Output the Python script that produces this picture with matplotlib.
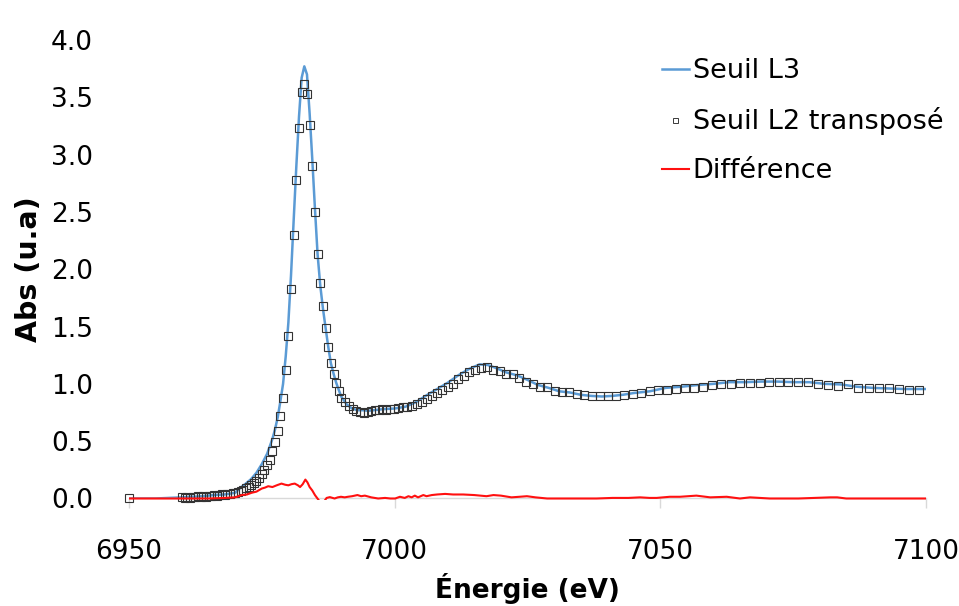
import matplotlib.pyplot as plt
from matplotlib.lines import Line2D
from matplotlib.transforms import Bbox, TransformedBbox

plt.rcParams['font.family'] = ['DejaVu Sans']

# Seuil L3 (continuous line)
e_l3 = [6950, 6955, 6960, 6962, 6964, 6966, 6968, 6970, 6971, 6972, 6973, 6974,
        6975, 6976, 6977, 6977.5, 6978, 6978.5, 6979, 6979.5, 6980, 6980.5, 6981,
        6981.5, 6982, 6982.5, 6983, 6983.5, 6984, 6984.5, 6985, 6985.5, 6986,
        6986.5, 6987, 6987.5, 6988, 6988.5, 6989, 6989.5, 6990, 6991, 6992, 6993,
        6994, 6995, 6996, 6998, 7000, 7002, 7004, 7006, 7008, 7010, 7012, 7014,
        7016, 7017.5, 7019, 7021, 7023, 7025, 7027, 7029, 7031, 7033, 7035, 7037,
        7039, 7041, 7043, 7045, 7048, 7051, 7054, 7057, 7060, 7063, 7066, 7069,
        7072, 7075, 7078, 7081, 7084, 7087, 7090, 7093, 7096, 7100]
abs_l3 = [0.0, 0.0, 0.01, 0.015, 0.02, 0.03, 0.035, 0.05, 0.095, 0.13, 0.17, 0.225,
          0.30, 0.39, 0.52, 0.605, 0.71, 0.85, 1.0, 1.24, 1.535, 1.95, 2.43,
          2.90, 3.33, 3.67, 3.77, 3.70, 3.36, 2.96, 2.53, 2.13, 1.86,
          1.66, 1.49, 1.325, 1.18, 1.09, 1.01, 0.945, 0.885, 0.82, 0.785, 0.77,
          0.77, 0.765, 0.77, 0.78, 0.785, 0.80, 0.84, 0.90, 0.955, 1.01, 1.075, 1.13,
          1.17, 1.165, 1.14, 1.10, 1.075, 1.035, 0.99, 0.965, 0.935, 0.925, 0.905, 0.895,
          0.89, 0.895, 0.905, 0.92, 0.935, 0.965, 0.975, 0.99, 1.0, 1.015, 1.015, 1.02,
          1.02, 1.015, 1.015, 1.0, 0.995, 0.975, 0.965, 0.96, 0.955, 0.955]

# Seuil L2 transposé (open squares)
e_l2 = [6950,
        6960.0, 6960.5, 6961.0, 6961.5, 6962.0, 6962.5, 6963.0, 6963.5, 6964.0, 6964.5,
        6965.0, 6965.5, 6966.0, 6966.5, 6967.0, 6967.5, 6968.0, 6968.5, 6969.0, 6969.5,
        6970.0, 6970.5, 6971.0, 6971.5, 6972.0, 6972.5, 6973.0, 6973.5, 6974.0, 6974.5,
        6975.0, 6975.5, 6976.0, 6976.5, 6977.0, 6977.5, 6978.0, 6978.5, 6979.0, 6979.5,
        6980.0, 6980.5, 6981.0, 6981.5, 6982.0, 6982.5, 6983.0, 6983.5, 6984.0, 6984.5,
        6985.0, 6985.5, 6986.0, 6986.5, 6987.0, 6987.5, 6988.0, 6988.5, 6989.0, 6989.5,
        6990.0, 6990.7, 6991.4, 6992.1, 6992.8, 6993.5, 6994.2, 6994.9, 6995.6, 6996.3,
        6997.0, 6997.7, 6998.4, 6999.1, 6999.8, 7000.6, 7001.5, 7002.4, 7003.3, 7004.2,
        7005.1, 7006.0, 7007.0, 7008.0, 7009.0, 7010.0, 7011.0, 7012.0, 7013.0, 7014.0,
        7015.1, 7016.2, 7017.4, 7018.6, 7019.8, 7021.0, 7022.2, 7023.5, 7024.8, 7026.1,
        7027.4, 7028.7, 7030.1, 7031.5, 7032.9, 7034.3, 7035.7, 7037.2, 7038.7, 7040.2,
        7041.7, 7043.2, 7044.8, 7046.4, 7048.0, 7049.6, 7051.3, 7053.0, 7054.7, 7056.4,
        7058.1, 7059.8, 7061.5, 7063.3, 7065.1, 7066.9, 7068.7, 7070.5, 7072.3, 7074.1,
        7075.9, 7077.8, 7079.7, 7081.6, 7083.5, 7085.4, 7087.3, 7089.2, 7091.1, 7093.0,
        7094.9, 7096.8, 7098.7]
abs_l2 = [0.0,
          0.01, 0.005, 0.01, 0.0, 0.015, 0.01, 0.02, 0.01, 0.02, 0.015,
          0.025, 0.02, 0.03, 0.02, 0.03, 0.035, 0.03, 0.04, 0.04, 0.045,
          0.05, 0.055, 0.065, 0.075, 0.09, 0.10, 0.12, 0.135, 0.155, 0.18,
          0.21, 0.245, 0.29, 0.34, 0.41, 0.49, 0.59, 0.72, 0.88, 1.12,
          1.42, 1.83, 2.30, 2.78, 3.23, 3.55, 3.62, 3.53, 3.26, 2.90,
          2.50, 2.13, 1.88, 1.68, 1.49, 1.32, 1.18, 1.09, 1.01, 0.94,
          0.88, 0.84, 0.81, 0.78, 0.765, 0.755, 0.75, 0.755, 0.765, 0.77,
          0.775, 0.78, 0.775, 0.785, 0.78, 0.79, 0.795, 0.80, 0.81, 0.825,
          0.84, 0.865, 0.89, 0.92, 0.945, 0.97, 1.00, 1.04, 1.07, 1.10,
          1.125, 1.14, 1.145, 1.12, 1.11, 1.09, 1.085, 1.05, 1.02, 1.00,
          0.975, 0.97, 0.94, 0.93, 0.925, 0.915, 0.90, 0.895, 0.89, 0.89,
          0.89, 0.905, 0.915, 0.92, 0.935, 0.945, 0.95, 0.955, 0.96, 0.965,
          0.97, 0.99, 1.00, 1.0, 1.005, 1.005, 1.01, 1.015, 1.02, 1.015,
          1.015, 1.015, 1.0, 0.99, 0.985, 0.995, 0.965, 0.965, 0.965, 0.96,
          0.955, 0.95, 0.95]

# Différence
e_diff = [6950, 6955, 6960, 6965, 6968, 6970, 6971.2, 6972.2, 6973.1, 6974, 6975,
          6975.6, 6976.2, 6977, 6977.8, 6978.7, 6979.4, 6980, 6980.6, 6981.2, 6981.8,
          6982.2, 6982.7, 6983.2, 6983.6, 6984, 6984.5, 6985, 6985.4, 6985.8, 6986.5,
          6987.2, 6987.8, 6988.7, 6989.3, 6989.9, 6990.6, 6991.2, 6992, 6993, 6993.7,
          6994.4, 6995.6, 6996.9, 6998.2, 6999.2, 7000.1, 7001, 7001.9, 7002.6, 7003.2,
          7003.8, 7004.4, 7005.4, 7006, 7007, 7008, 7009.5, 7011, 7012.9, 7015, 7017.3,
          7018.6, 7020, 7022, 7023.5, 7024.9, 7026.5, 7028.7, 7032, 7035, 7038, 7041,
          7044, 7046.2, 7048, 7049.3, 7051.8, 7053.7, 7056.8, 7059.4, 7062.5, 7065,
          7066.9, 7070.6, 7073, 7076, 7079, 7082, 7083.3, 7085, 7090, 7095, 7100]
diff = [0, 0, 0.0, 0.0, 0.005, 0.01, 0.03, 0.035, 0.05, 0.06, 0.087,
        0.095, 0.107, 0.10, 0.115, 0.13, 0.12, 0.115, 0.125, 0.13, 0.115,
        0.10, 0.125, 0.165, 0.14, 0.10, 0.07, 0.03, 0.005, -0.02, -0.04,
        0.005, 0.012, 0.0, 0.01, 0.015, 0.01, 0.015, 0.02, 0.03, 0.02,
        0.025, 0.01, 0.0, 0.005, 0.0, 0.0, 0.015, 0.005, 0.02, 0.01,
        0.025, 0.01, 0.03, 0.02, 0.03, 0.035, 0.04, 0.035, 0.035, 0.03, 0.02,
        0.03, 0.025, 0.01, 0.015, 0.02, 0.01, 0.0, 0.0, 0.0, 0.0, 0.005,
        0.005, 0.01, 0.005, 0.005, 0.015, 0.015, 0.025, 0.01, 0.015, 0.0,
        0.01, 0.0, 0.0, 0.0, 0.005, 0.01, 0.01, 0.0, 0.0, 0.0, 0.0]

x_ticks = [6950, 7000, 7050, 7100]
y_ticks = [0.0, 0.5, 1.0, 1.5, 2.0, 2.5, 3.0, 3.5, 4.0]

blue = '#5B9BD5'
red = '#FF1010'
grey = '#D9D9D9'

fig = plt.figure(figsize=(9.59, 6.06), dpi=100)
ax = fig.add_axes([0.1345, 0.1774, 0.831, 0.7566])

ax.plot(e_l3, abs_l3, color=blue, lw=1.8, zorder=2)
ax.plot(e_l2, abs_l2, ls='none', marker='s', ms=5.3, mfc='none', mec='#333333',
        mew=0.8, zorder=3, clip_on=False)
red_line, = ax.plot(e_diff, diff, color=red, lw=1.5, zorder=4)
# let the zero line show in full but hide the negative dip
red_line.set_clip_box(TransformedBbox(Bbox([[0, -0.004], [1, 1]]), ax.transAxes))

ax.set_xlim(6950, 7100)
ax.set_ylim(0, 4.0)
ax.set_xticks(x_ticks)
ax.set_yticks(y_ticks)
ax.set_yticklabels([f'{v:.1f}' for v in y_ticks])

for s in ['top', 'right', 'left']:
    ax.spines[s].set_visible(False)
ax.spines['bottom'].set_color(grey)
ax.spines['bottom'].set_linewidth(1.0)

ax.tick_params(axis='x', colors=grey, length=7, width=1, labelsize=19,
               labelcolor='black', pad=22)
ax.tick_params(axis='y', length=0, labelsize=19, labelcolor='black', pad=26)

ax.set_xlabel('Énergie (eV)', fontsize=19, fontweight='bold', labelpad=6)
ax.set_ylabel('Abs (u.a)', fontsize=20.5, fontweight='bold', labelpad=6)

handles = [Line2D([], [], color=blue, lw=1.8),
           Line2D([], [], ls='none', marker='s', ms=3.6, mfc='white', mec='#3a3a3a', mew=0.7),
           Line2D([], [], color=red, lw=1.5)]
labels = ['Seuil L3', 'Seuil L2 transposé', 'Différence']
fig.legend(handles, labels, loc='upper left', bbox_to_anchor=(0.690, 0.9035),
           frameon=False, fontsize=19.5, handlelength=1.0, handletextpad=0.15,
           labelspacing=0.845, borderpad=0, borderaxespad=0)

fig.savefig('out.png', dpi=100)
